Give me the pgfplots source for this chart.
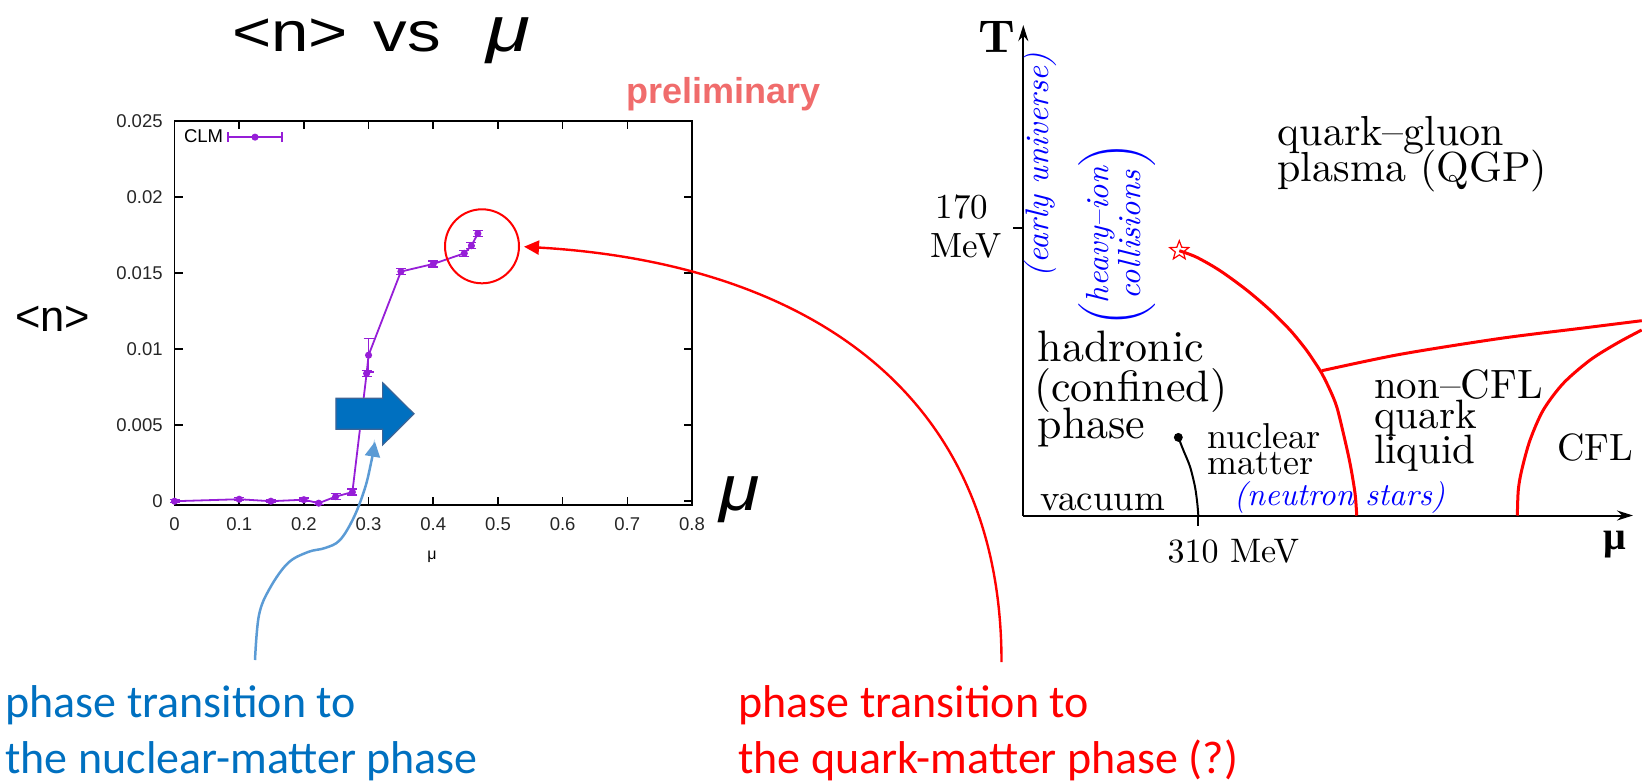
\documentclass[border=0pt]{standalone}
\usepackage{pgfplots}
\pgfplotsset{compat=1.18}
\usepackage{fontspec}
\usetikzlibrary{arrows.meta,plotmarks}
\newfontfamily\arial{Liberation Sans}
\newfontfamily\calibri{Carlito}
\newfontfamily\tnr{Liberation Serif}
\definecolor{clm}{RGB}{150,30,215}
\definecolor{pptblue}{RGB}{0,112,192}
\definecolor{pptedge}{RGB}{60,100,150}
\definecolor{lightarrow}{RGB}{91,155,213}
\definecolor{prelim}{RGB}{240,108,108}
\tikzset{cmtext/.style={inner sep=0pt, font=\fontsize{10}{12}\selectfont, anchor=base west}}
\pgfdeclareplotmark{ostar}{%
  \pgfpathmoveto{\pgfpointpolar{90}{\pgfplotmarksize}}%
  \pgfpathlineto{\pgfpointpolar{126}{0.42\pgfplotmarksize}}%
  \pgfpathlineto{\pgfpointpolar{162}{\pgfplotmarksize}}%
  \pgfpathlineto{\pgfpointpolar{198}{0.42\pgfplotmarksize}}%
  \pgfpathlineto{\pgfpointpolar{234}{\pgfplotmarksize}}%
  \pgfpathlineto{\pgfpointpolar{270}{0.42\pgfplotmarksize}}%
  \pgfpathlineto{\pgfpointpolar{306}{\pgfplotmarksize}}%
  \pgfpathlineto{\pgfpointpolar{342}{0.42\pgfplotmarksize}}%
  \pgfpathlineto{\pgfpointpolar{18}{\pgfplotmarksize}}%
  \pgfpathlineto{\pgfpointpolar{54}{0.42\pgfplotmarksize}}%
  \pgfpathclose\pgfusepathqstroke}
\begin{document}
\begin{tikzpicture}
\path[use as bounding box] (0pt,0pt) rectangle (821pt,-391pt);

% ---------------- left plot ----------------
\begin{axis}[
  at={(87.25pt,-252.5pt)}, anchor=south west,
  scale only axis, width=258.75pt, height=192pt,
  xmin=0, xmax=0.8, ymin=-0.00025, ymax=0.025,
  xtick={0,0.1,0.2,0.3,0.4,0.5,0.6,0.7,0.8},
  xticklabels={0,0.1,0.2,0.3,0.4,0.5,0.6,0.7,0.8},
  ytick={0,0.005,0.01,0.015,0.02,0.025},
  yticklabels={0,0.005,0.01,0.015,0.02,0.025},
  scaled y ticks=false, scaled x ticks=false,
  tick label style={font=\arial\fontsize{9.25}{10}\selectfont, text=black!85, inner sep=0pt},
  xticklabel style={anchor=north, yshift=-6pt},
  yticklabel style={anchor=east, xshift=-5.75pt},
  major tick length=4pt,
  tick style={black, line width=0.75pt},
  axis line style={line width=0.75pt},
  legend style={at={(0.01,0.958)}, anchor=west, draw=none, fill=none, inner sep=0pt,
    font=\arial\fontsize{9.25}{10}\selectfont,
    /tikz/every even column/.append style={column sep=4pt}},
  legend plot pos=right,
  legend image code/.code={
    \draw[clm, line width=0.9pt] (0pt,0pt) -- (27pt,0pt);
    \draw[clm, line width=0.9pt] (0pt,-2.5pt) -- (0pt,2.5pt) (27pt,-2.5pt) -- (27pt,2.5pt);
    \fill[clm] (13.5pt,0pt) circle (1.3pt);
  },
  clip=false,
]
\addplot[clm, line width=0.9pt, mark=*, mark size=1.3pt, mark options={clm, fill=clm},
  error bars/.cd, y dir=both, y explicit,
  error bar style={clm, line width=0.7pt},
  error mark options={clm, mark size=2.5pt, line width=0.7pt, rotate=90}]
coordinates {
 (0,0) +- (0,0.0001)
 (0.1,0.00013) +- (0,0.0001)
 (0.149,0.0) +- (0,0.0001)
 (0.2,0.0001) +- (0,0.0001)
 (0.223,-0.00013) +- (0,0.0001)
 (0.249,0.0003) +- (0,0.0002)
 (0.275,0.0006) +- (0,0.0002)
 (0.297,0.0084) +- (0,0.0002)
 (0.300,0.0096) +- (0,0.0011)
 (0.350,0.0151) +- (0,0.0002)
 (0.400,0.0156) +- (0,0.0002)
 (0.448,0.0163) +- (0,0.0002)
 (0.459,0.0168) +- (0,0.0002)
 (0.469,0.0176) +- (0,0.0002)
};
\addlegendentry{CLM}
\end{axis}

% ---------------- right phase diagram ----------------
\begin{axis}[
  at={(511.65pt,-257.75pt)}, anchor=south west,
  scale only axis, width=304.85pt, height=245.2pt,
  xmin=0, xmax=1080, ymin=0, ymax=290,
  axis lines=left,
  axis line style={line width=1pt, -{Stealth[length=8pt,width=5pt]}},
  xtick={310}, ytick={170}, xticklabels={\empty}, yticklabels={\empty},
  tick align=outside, major tick length=5pt, tick style={black, line width=1pt},
  clip=false,
]
\addplot[red, line width=1.5pt, smooth] coordinates {
 (276.3,156.6) (307.2,152.7) (348.4,144.8) (395.7,133.3) (437.0,121.5)
 (472.4,109.7) (499.0,98.9) (513.7,91.9) (528.6,84.1) (543.3,74.2)
 (555.2,64.3) (566.9,48.6) (578.7,30.9) (587.6,13.1) (590.6,0)
};
\addplot[red, line width=1.5pt, smooth] coordinates {
 (528.6,85.6) (667.3,95.3) (844.4,104.7) (990,110.8) (1095.5,115.2)
};
\addplot[red, line width=1.5pt, smooth] coordinates {
 (875.1,0) (876.8,15.1) (882.9,26.9) (897.6,44.6) (921.1,62.4)
 (956.6,78.2) (1003.9,91.9) (1051.2,101.8) (1095.4,109.7)
};
\addplot[black, line width=1pt, smooth] coordinates {
 (274.6,46.2) (283.4,38.7) (295.3,28.9) (304.1,17.0) (308.2,7.2) (310,0)
};
\addplot[black, only marks, mark=*, mark size=2pt] coordinates {(274.6,46.2)};
\addplot[red, only marks, mark=ostar, mark size=5pt, mark options={line width=0.6pt}] coordinates {(276.3,156.6)};
\end{axis}

\begin{scope}[x=0.5pt,y=-0.5pt]
\node[anchor=base west, inner sep=0pt, font=\arial\fontsize{28}{30}\selectfont, xscale=1.2] at (231.7,51.7) {<n>};
\node[anchor=base west, inner sep=0pt, font=\arial\fontsize{28}{30}\selectfont, xscale=1.2] at (373.3,51.7) {vs};
\node[anchor=base west, inner sep=0pt, font=\arial\itshape\fontsize{32}{34}\selectfont, xscale=1.25] at (486,51.7) {μ};
\node[anchor=base west, inner sep=0pt, font=\arial\fontsize{21.75}{24}\selectfont] at (15,331.7) {<n>};
\node[anchor=base west, inner sep=0pt, font=\arial\bfseries\fontsize{18}{20}\selectfont, text=prelim] at (626,103.5) {preliminary};
\node[inner sep=0pt, font=\arial\fontsize{8}{9}\selectfont] at (432,556.7) {μ};
\node[anchor=base west, inner sep=0pt, font=\arial\itshape\fontsize{32}{34}\selectfont, xscale=1.15] at (719,510) {μ};

\filldraw[fill=pptblue, draw=pptedge, line width=0.6pt]
  (335.9,398.3) -- (382.6,398.3) -- (382.6,382.7) -- (414,413.8) -- (382.6,445) -- (382.6,429.3) -- (335.9,429.3) -- cycle;

\draw[lightarrow, line width=1.25pt, -{Triangle[length=7.5pt,width=7.5pt]}]
  plot[smooth, tension=0.6] coordinates {(255,660) (259,615) (270,588) (288,563) (308,552) (325,548) (340,540) (354,517) (365,488) (371,463) (375,441.7)};

\draw[red, line width=1pt] (482,246.3) circle (37);
\draw[red, line width=1.2pt, -{Triangle[length=7.5pt,width=7pt]}]
  (1001.5,662) .. controls (1001.5,380) and (790,262) .. (524,246.7);

\node[anchor=base west, inner sep=0pt, font=\calibri\fontsize{23}{28}\selectfont, text=pptblue] at (5,717) {phase transition to};
\node[anchor=base west, inner sep=0pt, font=\calibri\fontsize{23}{28}\selectfont, text=pptblue] at (5,773) {the nuclear-matter phase};
\node[anchor=base west, inner sep=0pt, font=\calibri\fontsize{23}{28}\selectfont, text=red] at (738,717) {phase transition to};
\node[anchor=base west, inner sep=0pt, font=\calibri\fontsize{23}{28}\selectfont, text=red] at (738,773) {the quark-matter phase (?)};

\node[cmtext, scale=2.1] at (1276.7,145) {quark--gluon};
\node[cmtext, scale=2.1] at (1276.7,181.7) {plasma (QGP)};
\node[cmtext, scale=2.2] at (1036.7,361.7) {hadronic};
\node[cmtext, scale=2.2] at (1033.3,401.7) {(confined)};
\node[cmtext, scale=2.2] at (1036.7,438.3) {phase};
\node[cmtext, scale=1.8] at (1206.7,448.3) {nuclear};
\node[cmtext, scale=1.8] at (1206.7,474.5) {matter};
\node[cmtext, scale=1.85] at (1040,510) {vacuum};
\node[cmtext, scale=2.05] at (1373.3,398.3) {non--CFL};
\node[cmtext, scale=2.05] at (1373.3,428.8) {quark};
\node[cmtext, scale=2.05] at (1373.3,463.5) {liquid};
\node[cmtext, scale=1.9] at (1556.7,460) {CFL};
\node[cmtext, scale=1.75, anchor=base] at (962,218) {170};
\node[cmtext, scale=1.75, anchor=base] at (966,257) {MeV};
\node[cmtext, scale=1.7] at (1167,562) {310 MeV};
\node[cmtext, scale=2.3, anchor=center, font=\fontsize{10}{12}\selectfont\bfseries] at (996.5,37) {T};
\node[inner sep=0pt, anchor=center, font=\tnr\bfseries\fontsize{20}{22}\selectfont] at (1615,545) {μ};
\node[cmtext, anchor=center, rotate=90, scale=1.63, font=\fontsize{10}{12}\selectfont\itshape, text=blue] at (1040.5,165) {(early universe)};
\node[inner sep=0pt, anchor=center, rotate=90, scale=1.6, text=blue, font=\fontsize{10}{12}\selectfont\itshape] at (1116.7,235)
  {$\left(\begin{tabular}{@{}c@{}}\itshape heavy--ion\\[-2pt]\itshape collisions\end{tabular}\right)$};
\node[cmtext, scale=1.6, font=\fontsize{10}{12}\selectfont\itshape, text=blue] at (1233.3,505) {(neutron stars)};
\end{scope}
\end{tikzpicture}
\end{document}
